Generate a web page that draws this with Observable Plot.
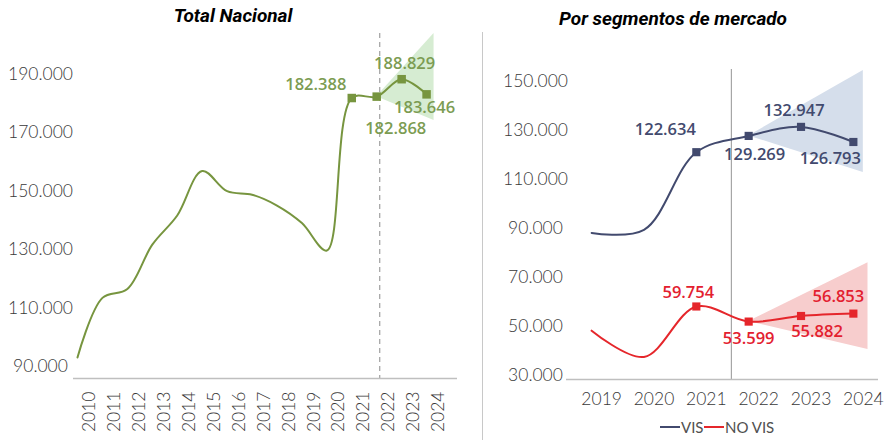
<!DOCTYPE html>
<html>
<head>
<meta charset="utf-8">
<script src="https://cdn.jsdelivr.net/npm/d3@7"></script>
<script src="https://cdn.jsdelivr.net/npm/@observablehq/plot@0.6"></script>
<style>
  body { margin: 0; background: #fff; }
  #wrap { position: relative; width: 884px; height: 440px; overflow: hidden; font-family: Lato, sans-serif; background:#fff; }
  .title { position: absolute; font-family: Roboto, sans-serif; font-weight: 700; font-style: italic; font-size: 19px; color: #000; transform: translate(-50%, -50%); white-space: nowrap; }
  #left { position: absolute; left: 0; top: 0; }
  #right { position: absolute; left: 480px; top: 0; }
  #sep { position: absolute; left: 482px; top: 32px; width: 1px; height: 408px; background: #c8c8c8; }
  .leg { position: absolute; top: 418px; font-family: Lato, sans-serif; font-size: 15px; color: #505050; display: flex; align-items: center; white-space: nowrap; }
  .leg span.sw { display: inline-block; width: 20px; height: 2px; margin-right: 1px; }
</style>
</head>
<body>
<div id="wrap">
  <div class="title" style="left:233px; top:15px;">Total Nacional</div>
  <div class="title" style="left:673px; top:18px;">Por segmentos de mercado</div>
  <div id="left"></div>
  <div id="sep"></div>
  <div id="right"></div>
  <div class="leg" style="left:660px;"><span class="sw" style="background:#424a6e"></span>VIS</div>
  <div class="leg" style="left:704px;"><span class="sw" style="background:#e5262b"></span>NO VIS</div>
</div>
<script>
// ---------- Data ----------
const years = [2010, 2011, 2012, 2013, 2014, 2015, 2016, 2017, 2018, 2019, 2020, 2021, 2022, 2023, 2024];
const totalNacional = [93600, 114000, 117000, 132200, 142200, 157400, 150500, 149300, 145600, 139600, 130200, 182388, 182868, 188829, 183646];

const segYears = [2019, 2020, 2021, 2022, 2023, 2024];
const vis = [89700, 91000, 122634, 129269, 132947, 126793];
const noVis = [49900, 39200, 59754, 53599, 55882, 56853];

const markedYears = [2021, 2022, 2023, 2024];

// forecast bands (start at 2022, widen to the end)
const totalBandYears = [2022, 2024.3];
const totalBandLow = [182868, 174700];
const totalBandHigh = [182868, 204460];
const visBandYears = [2022, 2024.19];
const visBandLow = [129269, 114360];
const visBandHigh = [129269, 155900];
const noVisBandYears = [2022, 2024.28];
const noVisBandLow = [53599, 42230];
const noVisBandHigh = [53599, 77560];

// tick labels
const leftTicks = [90000, 110000, 130000, 150000, 170000, 190000];
const rightTicks = [30000, 50000, 70000, 90000, 110000, 130000, 150000];
const rightYears = [2019, 2020, 2021, 2022, 2023, 2024];

// ---------- Styles ----------
const green = "#77953f", greenLabel = "#7c9c52", greenBand = "#d6ecd2";
const navy = "#424a6e", navyBand = "#d5deeb";
const red = "#e5262b", redLabel = "#e3202f", redBand = "#f7cdcd";
const tickColor = "#383838";
const tickFont = {fontSize: 17.5, fontWeight: 300, fontFamily: "Lato"};

// label offsets (dx, dy) for each marked point
const totalLabelOffsets = [[-36, -13], [19, 32], [3, -15], [-2, 13]];
const visLabelOffsets = [[-31, -22], [6, 19], [-7, -16], [-23, 17]];
const noVisLabelOffsets = [[-8, -14], [0, 17], [16, 16], [-15, -17]];

const fmt = d3.formatLocale({decimal: ",", thousands: ".", grouping: [3], currency: ["", ""]}).format(",d");

const zip = (xs, ys) => xs.map((x, i) => ({x, y: ys[i]}));
const band = (xs, lo, hi) => xs.map((x, i) => ({x, lo: lo[i], hi: hi[i]}));

function labelMarks(series, xs, offsets, color) {
  return xs.map((yr, i) => {
    const d = series.find(p => p.x === yr);
    return Plot.text([d], {x: "x", y: "y", text: p => fmt(p.y), dx: offsets[i][0], dy: offsets[i][1],
      fill: color, fontSize: 16.5, fontWeight: 600, fontFamily: "Open Sans"});
  });
}

// ---------- Left chart ----------
const totalData = zip(years, totalNacional);
const totalMarked = totalData.filter(d => markedYears.includes(d.x));
const leftYMin = 86400, leftYMax = 205500;
const leftDivider = [2022.12];

const left = Plot.plot({
  width: 470, height: 440,
  marginLeft: 73, marginRight: 13, marginTop: 30, marginBottom: 62,
  style: {fontFamily: "Lato", background: "transparent", overflow: "visible"},
  x: {domain: [2009.84, 2025.24], label: null},
  y: {domain: [leftYMin, leftYMax], label: null},
  marks: [
    Plot.areaY(band(totalBandYears, totalBandLow, totalBandHigh), {x: "x", y1: "lo", y2: "hi", fill: greenBand}),
    Plot.ruleX(leftDivider, {y1: totalBandHigh[1], y2: leftYMin, stroke: "#a6a6a6", strokeWidth: 1.3, strokeDasharray: "5,4"}),
    Plot.ruleY([leftYMin], {stroke: "#bfbfbf", strokeWidth: 1.5}),
    Plot.lineY(totalData, {x: "x", y: "y", curve: "catmull-rom", stroke: green, strokeWidth: 2}),
    Plot.dot(totalMarked, {x: "x", y: "y", symbol: "square", fill: green, r: 4.8}),
    ...labelMarks(totalData, markedYears, totalLabelOffsets, greenLabel),
    Plot.axisY(leftTicks, {tickSize: 0, tickPadding: 33, textAnchor: "middle", tickFormat: fmt, dy: -1.5, fill: tickColor, label: null, ...tickFont}),
    Plot.axisX(years, {tickSize: 0, tickPadding: 13, tickRotate: -90, dx: 12, tickFormat: d => String(d), fill: tickColor, label: null, ...tickFont})
  ]
});
document.getElementById("left").appendChild(left);

// ---------- Right chart ----------
const visData = zip(segYears, vis);
const noVisData = zip(segYears, noVis);
const rightYMin = 30000, rightYMax = 160000;
const rightDivider = [2021.67];

const right = Plot.plot({
  width: 404, height: 440,
  marginLeft: 86, marginRight: 6, marginTop: 60, marginBottom: 61,
  style: {fontFamily: "Lato", background: "transparent", overflow: "visible"},
  x: {domain: [2018.52, 2024.48], label: null},
  y: {domain: [rightYMin, rightYMax], label: null},
  marks: [
    Plot.areaY(band(visBandYears, visBandLow, visBandHigh), {x: "x", y1: "lo", y2: "hi", fill: navyBand}),
    Plot.areaY(band(noVisBandYears, noVisBandLow, noVisBandHigh), {x: "x", y1: "lo", y2: "hi", fill: redBand}),
    Plot.ruleX(rightDivider, {y1: 156300, y2: rightYMin, stroke: "#a6a6a6", strokeWidth: 1.2}),
    Plot.ruleY([rightYMin], {stroke: "#bfbfbf", strokeWidth: 1.5}),
    Plot.lineY(visData, {x: "x", y: "y", curve: "catmull-rom", stroke: navy, strokeWidth: 2}),
    Plot.lineY(noVisData, {x: "x", y: "y", curve: "catmull-rom", stroke: red, strokeWidth: 2}),
    Plot.dot(visData.filter(d => markedYears.includes(d.x)), {x: "x", y: "y", symbol: "square", fill: navy, r: 4.6}),
    Plot.dot(noVisData.filter(d => markedYears.includes(d.x)), {x: "x", y: "y", symbol: "square", fill: red, r: 4.6}),
    ...labelMarks(visData, markedYears, visLabelOffsets, navy),
    ...labelMarks(noVisData, markedYears, noVisLabelOffsets, redLabel),
    Plot.axisY(rightTicks, {tickSize: 0, tickPadding: 31, textAnchor: "middle", tickFormat: fmt, dy: -4, fill: tickColor, label: null, ...tickFont}),
    Plot.axisX(rightYears, {tickSize: 0, tickPadding: 13, dx: 10, tickFormat: d => String(d), fill: tickColor, label: null, ...tickFont})
  ]
});
document.getElementById("right").appendChild(right);
</script>
</body>
</html>
